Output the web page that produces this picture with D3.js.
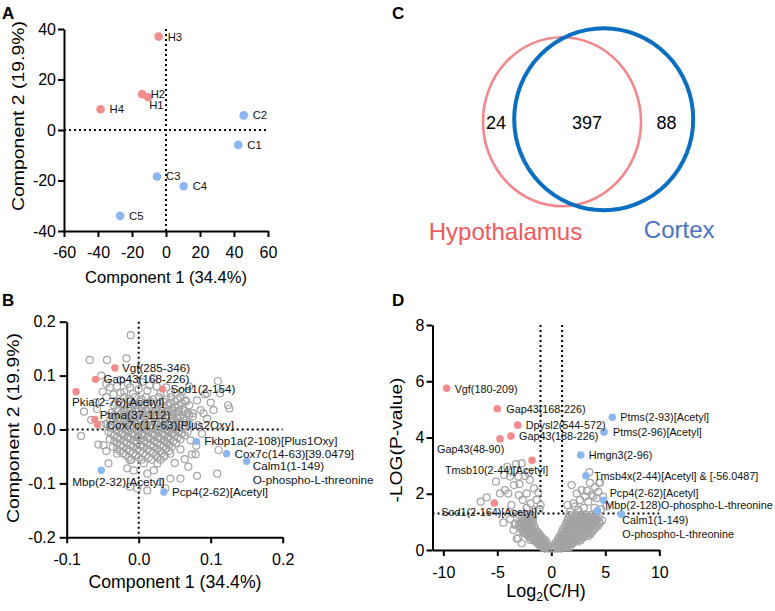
<!DOCTYPE html>
<html>
<head>
<meta charset="utf-8">
<script src="https://cdn.jsdelivr.net/npm/d3@7"></script>
<style>
  body { margin: 0; background: #fff; }
  svg { display: block; font-family: "Liberation Sans", Arial, Helvetica, sans-serif; }
</style>
</head>
<body>
<div id="chart"></div>
<script>
// ---- Panel A: PCA scores ----
const pcaSamples = ['H1', 'H2', 'H3', 'H4', 'C1', 'C2', 'C3', 'C4', 'C5'];
const pcaX = [-10.5, -14, -4.3, -38.5, 42.5, 45.7, -5.3, 10.4, -27];
const pcaY = [13, 14.2, 37, 8.2, -5.9, 5.8, -18.4, -22.3, -34];
const pcaGroup = ['H', 'H', 'H', 'H', 'C', 'C', 'C', 'C', 'C'];
const pcaXTicks = [-60, -40, -20, 0, 20, 40, 60];
const pcaYTicks = [-40, -20, 0, 20, 40];

// ---- Panel B: loadings ----
const loadNames = ['Vgf(285-346)', 'Gap43(168-226)', 'Sod1(2-154)', 'Pkia(2-76)[Acetyl]', 'Ptma(37-112)',
  'Cox7c(17-63)[Plus2Oxy]', 'Fkbp1a(2-108)[Plus1Oxy]', 'Cox7c(14-63)[39.0479]',
  'Calm1(1-149)\nO-phospho-L-threonine', 'Mbp(2-32)[Acetyl]', 'Pcp4(2-62)[Acetyl]'];
const loadX = [-0.033, -0.060, 0.033, -0.087, -0.061, -0.057, 0.080, 0.122, 0.150, -0.052, 0.035];
const loadY = [0.114, 0.093, 0.075, 0.070, 0.0186, 0.009, -0.022, -0.045, -0.059, -0.0755, -0.116];
const loadGroup = ['H', 'H', 'H', 'H', 'H', 'H', 'C', 'C', 'C', 'C', 'C'];
const loadOther = [
  [-0.020,0.060],[-0.005,0.060],[0.010,0.060],[0.028,0.060],[0.045,0.060],[0.058,0.060],
  [-0.028,0.052],[-0.012,0.052],[0.002,0.052],[0.016,0.052],[0.034,0.052],[0.050,0.052],[0.066,0.052],
  [-0.035,0.045],[-0.020,0.045],[-0.004,0.045],[0.008,0.045],[0.022,0.045],[0.040,0.045],[0.055,0.045],[0.070,0.045],
  [-0.030,0.038],[-0.015,0.038],[0.000,0.038],[0.014,0.038],[0.030,0.038],[0.046,0.038],[0.062,0.038],
  [-0.038,0.031],[-0.024,0.031],[-0.008,0.031],[0.006,0.031],[0.020,0.031],[0.036,0.031],[0.052,0.031],[0.068,0.031],
  [-0.032,0.024],[-0.016,0.024],[-0.002,0.024],[0.012,0.024],[0.026,0.024],[0.042,0.024],[0.058,0.024],[0.075,0.024],
  [-0.040,0.017],[-0.026,0.017],[-0.010,0.017],[0.004,0.017],[0.018,0.017],[0.034,0.017],[0.048,0.017],[0.064,0.017],
  [-0.045,0.010],[-0.030,0.010],[-0.016,0.010],[-0.004,0.010],[0.010,0.010],[0.024,0.010],[0.040,0.010],[0.056,0.010],[0.070,0.010],
  [-0.036,0.003],[-0.022,0.003],[-0.008,0.003],[0.006,0.003],[0.020,0.003],[0.032,0.003],[0.046,0.003],[0.060,0.003],
  [-0.042,-0.004],[-0.028,-0.004],[-0.014,-0.004],[0.000,-0.004],[0.014,-0.004],[0.028,-0.004],[0.042,-0.004],[0.055,-0.004],[0.068,-0.004],
  [-0.034,-0.011],[-0.020,-0.011],[-0.006,-0.011],[0.008,-0.011],[0.022,-0.011],[0.036,-0.011],[0.050,-0.011],[0.064,-0.011],
  [-0.040,-0.018],[-0.026,-0.018],[-0.012,-0.018],[0.002,-0.018],[0.016,-0.018],[0.030,-0.018],[0.044,-0.018],[0.058,-0.018],
  [-0.030,-0.025],[-0.016,-0.025],[-0.002,-0.025],[0.012,-0.025],[0.026,-0.025],[0.040,-0.025],[0.052,-0.025],
  [-0.036,-0.032],[-0.022,-0.032],[-0.008,-0.032],[0.006,-0.032],[0.020,-0.032],[0.034,-0.032],[0.046,-0.032],
  [-0.026,-0.040],[-0.012,-0.040],[0.002,-0.040],[0.016,-0.040],[0.030,-0.040],[0.042,-0.040],
  [-0.018,-0.048],[-0.004,-0.048],[0.010,-0.048],[0.024,-0.048],[0.036,-0.048],
  [-0.010,-0.056],[0.004,-0.056],[0.018,-0.056],[0.030,-0.056],
  [-0.012,0.042],[0.004,0.042],[0.018,0.042],[0.034,0.042],[0.050,0.042],
  [-0.020,0.035],[-0.004,0.035],[0.010,0.035],[0.024,0.035],[0.040,0.035],[0.056,0.035],
  [-0.012,0.028],[0.002,0.028],[0.016,0.028],[0.030,0.028],[0.046,0.028],
  [-0.020,0.021],[-0.006,0.021],[0.008,0.021],[0.022,0.021],[0.038,0.021],[0.054,0.021],
  [-0.014,0.014],[0.000,0.014],[0.014,0.014],[0.028,0.014],[0.044,0.014],
  [-0.024,0.007],[-0.010,0.007],[0.002,0.007],[0.016,0.007],[0.030,0.007],[0.050,0.007],
  [-0.016,0.000],[-0.002,0.000],[0.012,0.000],[0.026,0.000],[0.040,0.000],
  [-0.022,-0.007],[-0.008,-0.007],[0.006,-0.007],[0.020,-0.007],[0.034,-0.007],[0.048,-0.007],
  [-0.014,-0.014],[0.000,-0.014],[0.014,-0.014],[0.028,-0.014],[0.042,-0.014],
  [-0.006,-0.021],[0.008,-0.021],[0.022,-0.021],[0.036,-0.021],
  [-0.014,0.056],[0.004,0.056],[0.020,0.056],[0.038,0.056],[0.054,0.056],
  [-0.024,0.049],[-0.008,0.049],[0.010,0.049],[0.026,0.049],[0.044,0.049],[0.060,0.049],
  [-0.028,0.034],[-0.012,0.034],[0.004,0.034],[0.018,0.034],[0.032,0.034],[0.048,0.034],[0.064,0.034],
  [-0.034,0.027],[-0.020,0.027],[-0.006,0.027],[0.010,0.027],[0.024,0.027],[0.038,0.027],[0.054,0.027],[0.070,0.027],
  [-0.030,0.020],[-0.014,0.020],[0.002,0.020],[0.016,0.020],[0.030,0.020],[0.046,0.020],[0.062,0.020],
  [-0.036,0.013],[-0.020,0.013],[-0.006,0.013],[0.008,0.013],[0.022,0.013],[0.036,0.013],[0.052,0.013],[0.066,0.013],
  [-0.040,0.006],[-0.026,0.006],[-0.012,0.006],[0.004,0.006],[0.018,0.006],[0.034,0.006],[0.050,0.006],[0.064,0.006],
  [-0.032,-0.001],[-0.018,-0.001],[-0.004,-0.001],[0.010,-0.001],[0.024,-0.001],[0.038,-0.001],[0.052,-0.001],
  [-0.038,-0.008],[-0.024,-0.008],[-0.010,-0.008],[0.004,-0.008],[0.018,-0.008],[0.032,-0.008],[0.046,-0.008],[0.060,-0.008],
  [-0.030,-0.015],[-0.016,-0.015],[-0.002,-0.015],[0.012,-0.015],[0.026,-0.015],[0.040,-0.015],[0.054,-0.015],
  [-0.034,-0.022],[-0.020,-0.022],[-0.006,-0.022],[0.008,-0.022],[0.022,-0.022],[0.036,-0.022],[0.048,-0.022],
  [-0.026,-0.029],[-0.012,-0.029],[0.002,-0.029],[0.016,-0.029],[0.030,-0.029],[0.042,-0.029],
  [-0.030,-0.036],[-0.016,-0.036],[-0.002,-0.036],[0.012,-0.036],[0.026,-0.036],[0.038,-0.036],
  [-0.022,-0.044],[-0.008,-0.044],[0.006,-0.044],[0.020,-0.044],[0.032,-0.044],
  [-0.014,-0.052],[0.000,-0.052],[0.014,-0.052],[0.026,-0.052],
  [-0.045,0.085],[-0.030,0.080],[-0.015,0.085],[0.000,0.075],[-0.050,0.070],[-0.020,0.070],
  [0.015,0.082],[0.025,0.080],[-0.035,0.065],[-0.008,0.066],
  [-0.011,0.175],[-0.068,0.129],[-0.044,0.129],[-0.017,0.132],[-0.052,0.100],[-0.025,0.092],[-0.040,0.078],
  [-0.012,0.078],[0.005,0.088],[0.020,0.096],[0.012,0.072],[0.038,0.078],[0.060,0.070],[0.110,0.090],
  [0.124,0.045],[0.126,0.039],[0.065,0.054],[0.081,0.054],[0.086,0.036],[0.104,0.036],[0.095,0.020],
  [0.082,0.008],[0.088,-0.008],[0.074,-0.046],[0.079,-0.046],[0.111,-0.038],[0.081,-0.086],[0.012,-0.113],
  [-0.080,-0.012],[-0.056,-0.028],[-0.049,-0.029],[-0.076,0.033],[-0.042,-0.063],[-0.012,-0.057],
  [-0.016,-0.072],[-0.007,-0.076],[0.007,-0.063],[0.012,-0.082],[0.021,-0.076],[0.026,-0.063],
  [0.035,-0.051],[0.044,-0.045],[0.058,-0.037],[0.030,-0.097],[0.044,-0.091],[0.058,-0.091],
  [0.069,-0.069],[0.109,-0.082],[0.037,-0.109],[-0.012,-0.106],[-0.002,-0.109],[-0.060,0.050],
  [-0.066,0.018],[-0.052,0.008],[-0.058,0.038],[-0.030,-0.045],[-0.045,-0.040],[0.070,0.080],
  [0.092,0.065],[0.075,0.030],[0.072,-0.020],[0.080,-0.030],[0.064,-0.055],[0.050,-0.062],
  [-0.025,0.068],[-0.045,0.060],[0.030,0.068],[0.045,0.068],[0.095,0.067],[0.113,0.067],
  [0.090,0.030],[0.100,0.050]
];
const loadXTicks = [-0.1, 0.0, 0.1, 0.2];
const loadYTicks = [-0.2, -0.1, 0.0, 0.1, 0.2];

// ---- Panel C: Venn ----
const vennSets = ['Hypothalamus', 'Cortex'];
const vennCounts = [24, 397, 88]; // only H, shared, only C

// ---- Panel D: volcano ----
const volNames = ['Vgf(180-209)', 'Gap43(168-226)', 'Dpysl2(544-572)', 'Gap43(188-226)', 'Gap43(48-90)',
  'Tmsb10(2-44)[Acetyl]', 'Sod1(2-164)[Acetyl]', 'Ptms(2-93)[Acetyl]', 'Ptms(2-96)[Acetyl]', 'Hmgn3(2-96)',
  'Tmsb4x(2-44)[Acetyl] & [-56.0487]', 'Pcp4(2-62)[Acetyl]', 'Mbp(2-128)O-phospho-L-threonine',
  'Calm1(1-149)\nO-phospho-L-threonine'];
const volX = [-9.69, -5.0, -3.11, -3.73, -4.75, -1.79, -5.28, 5.65, 4.88, 2.72, 3.21, 4.85, 4.26, 6.48];
const volY = [5.75, 5.02, 4.44, 4.05, 3.95, 3.19, 1.67, 4.72, 4.20, 3.38, 2.64, 1.77, 1.40, 1.27];
const volGroup = ['H', 'H', 'H', 'H', 'H', 'H', 'H', 'C', 'C', 'C', 'C', 'C', 'C', 'C'];
const volOther = [
  [-6.54,1.72],[-5.99,1.87],[-5.12,2.43],[-4.75,2.01],[-4.29,2.13],[-3.98,2.01],[-3.46,2.31],[-3.06,2.61],
  [-3.36,2.84],[-3.27,3.05],[-2.75,3.08],[-2.44,2.63],[-1.98,2.49],[-1.60,2.19],[-2.28,2.01],[-1.36,1.78],
  [-1.91,1.66],[-0.99,1.60],[-2.65,1.78],[-1.67,1.42],[-4.07,2.96],[-4.38,2.67],[-3.82,2.61],[-2.95,2.35],
  [-2.10,2.75],[-1.20,2.05],[-3.00,1.95],[-1.10,1.45],[-2.30,1.50],[-3.70,1.60],
  [-4.44,0.97],[-3.52,1.30],[-3.80,1.10],[-3.40,0.90],[-3.50,0.71],[-3.20,0.40],[-2.74,0.24],[-3.06,0.42],
  [-2.28,0.71],[-1.97,0.95],[-1.97,0.36],
  [1.88,2.31],[2.35,2.01],[2.81,2.13],[3.58,2.39],[4.51,2.39],[4.35,2.07],[3.52,2.77],[3.89,1.90],
  [4.81,1.90],[4.44,2.39],[4.05,2.23],[2.04,1.66],[2.66,1.78],[3.12,1.90],[3.74,1.96],[3.43,1.72],
  [4.20,1.84],[1.73,1.36],[2.50,1.42],[3.00,1.50],[1.50,1.60],[4.00,1.50],[4.60,1.45],[5.10,1.55],
  [3.30,2.10],[2.20,1.55],
  [-0.6,0.05],[-0.3,0.05],[0.0,0.05],[0.3,0.05],[0.6,0.05],[0.9,0.05],
  [-1.0,0.15],[-0.7,0.15],[-0.4,0.15],[0.3,0.15],[0.6,0.15],[0.9,0.15],[1.2,0.15],[1.5,0.15],
  [-1.3,0.25],[-1.0,0.25],[-0.7,0.25],[-0.4,0.25],[0.4,0.25],[0.7,0.25],[1.0,0.25],[1.3,0.25],[1.7,0.25],[2.0,0.25],
  [-1.6,0.35],[-1.3,0.35],[-1.0,0.35],[-0.6,0.35],[0.6,0.35],[0.9,0.35],[1.2,0.35],[1.5,0.35],[1.9,0.35],[2.3,0.35],[2.7,0.35],
  [-2.0,0.45],[-1.6,0.45],[-1.3,0.45],[-0.9,0.45],[0.7,0.45],[1.0,0.45],[1.4,0.45],[1.8,0.45],[2.2,0.45],[2.6,0.45],[3.0,0.45],
  [-2.3,0.55],[-1.9,0.55],[-1.5,0.55],[-1.1,0.55],[0.9,0.55],[1.2,0.55],[1.6,0.55],[2.0,0.55],[2.4,0.55],[2.8,0.55],[3.2,0.55],[3.6,0.55],
  [-2.6,0.65],[-2.2,0.65],[-1.8,0.65],[-1.3,0.65],[1.0,0.65],[1.4,0.65],[1.8,0.65],[2.2,0.65],[2.6,0.65],[3.0,0.65],[3.4,0.65],[3.8,0.65],
  [-2.8,0.75],[-2.4,0.75],[-2.0,0.75],[-1.5,0.75],[1.1,0.75],[1.5,0.75],[1.9,0.75],[2.3,0.75],[2.8,0.75],[3.2,0.75],[3.6,0.75],[4.0,0.75],
  [-3.0,0.85],[-2.6,0.85],[-2.1,0.85],[-1.6,0.85],[1.3,0.85],[1.7,0.85],[2.1,0.85],[2.5,0.85],[2.9,0.85],[3.4,0.85],[3.8,0.85],[4.3,0.85],
  [-3.3,0.95],[-2.8,0.95],[-2.3,0.95],[-1.8,0.95],[1.4,0.95],[1.8,0.95],[2.2,0.95],[2.7,0.95],[3.1,0.95],[3.6,0.95],[4.0,0.95],[4.5,0.95],
  [-2.5,1.05],[-2.0,1.05],[1.5,1.05],[2.0,1.05],[2.4,1.05],[2.9,1.05],[3.3,1.05],[3.8,1.05],[4.2,1.05],[4.7,1.05],
  [-2.7,1.15],[-2.2,1.15],[-1.7,1.15],[1.6,1.15],[2.1,1.15],[2.6,1.15],[3.0,1.15],[3.5,1.15],[4.0,1.15],[4.4,1.15],
  [-3.0,1.25],[-2.3,1.25],[-1.8,1.25],[1.7,1.25],[2.3,1.25],[2.8,1.25],[3.2,1.25],[3.7,1.25],[4.1,1.25],
  [-0.8,0.10],[-0.5,0.10],[0.45,0.10],[0.75,0.10],[1.05,0.10],[1.35,0.10],[1.7,0.10],
  [-1.15,0.20],[-0.85,0.20],[-0.55,0.20],[0.55,0.20],[0.85,0.20],[1.15,0.20],[1.5,0.20],[1.85,0.20],
  [-1.45,0.30],[-1.15,0.30],[-0.8,0.30],[0.75,0.30],[1.05,0.30],[1.35,0.30],[1.7,0.30],[2.1,0.30],[2.5,0.30],
  [-1.8,0.40],[-1.45,0.40],[-1.1,0.40],[-0.75,0.40],[0.85,0.40],[1.2,0.40],[1.6,0.40],[2.0,0.40],[2.4,0.40],[2.8,0.40],
  [-2.1,0.50],[-1.7,0.50],[-1.3,0.50],[-1.0,0.50],[1.0,0.50],[1.4,0.50],[1.8,0.50],[2.2,0.50],[2.6,0.50],[3.0,0.50],[3.4,0.50],
  [-2.4,0.60],[-2.0,0.60],[-1.6,0.60],[-1.2,0.60],[1.2,0.60],[1.6,0.60],[2.0,0.60],[2.4,0.60],[2.8,0.60],[3.2,0.60],[3.6,0.60],
  [-2.6,0.70],[-2.2,0.70],[-1.7,0.70],[1.3,0.70],[1.7,0.70],[2.1,0.70],[2.5,0.70],[3.0,0.70],[3.4,0.70],[3.8,0.70],
  [-2.9,0.80],[-2.3,0.80],[-1.8,0.80],[1.5,0.80],[1.9,0.80],[2.3,0.80],[2.7,0.80],[3.1,0.80],[3.6,0.80],[4.1,0.80],
  [-3.0,0.90],[-2.5,0.90],[-2.0,0.90],[1.6,0.90],[2.0,0.90],[2.4,0.90],[2.9,0.90],[3.3,0.90],[3.8,0.90],[4.2,0.90],
  [-2.7,1.00],[-2.2,1.00],[-1.7,1.00],[1.7,1.00],[2.2,1.00],[2.6,1.00],[3.1,1.00],[3.5,1.00],[4.0,1.00],[4.4,1.00],
  [-2.4,1.10],[-1.9,1.10],[1.8,1.10],[2.3,1.10],[2.8,1.10],[3.2,1.10],[3.7,1.10],[4.2,1.10],
  [-2.5,1.20],[-2.0,1.20],[1.9,1.20],[2.5,1.20],[3.0,1.20],[3.4,1.20],[3.9,1.20]
];
const volXTicks = [-10, -5, 0, 5, 10];
const volYTicks = [0, 2, 4, 6, 8];

// ---- styling ----
const PINK = '#f48b8c';
const BLUE = '#8bb6f0';
const GREY = '#a3a3a3';
const groupColor = g => (g === 'H' ? PINK : BLUE);

const svg = d3.select('#chart').append('svg')
  .attr('width', 775)
  .attr('height', 611);

svg.append('rect').attr('width', 775).attr('height', 611).attr('fill', '#fff');

function dottedLine(g, x1, y1, x2, y2) {
  g.append('line')
    .attr('x1', x1).attr('y1', y1).attr('x2', x2).attr('y2', y2)
    .attr('stroke', '#000')
    .attr('stroke-width', 2)
    .attr('stroke-dasharray', '2 3');
}

function drawAxes(g, x, y, o) {
  const xa = g.append('g')
    .attr('transform', `translate(0,${y.range()[0]})`)
    .call(d3.axisBottom(x).tickValues(o.xTicks).tickFormat(o.fmt).tickSize(6).tickSizeOuter(0).tickPadding(o.xPad));
  const ya = g.append('g')
    .attr('transform', `translate(${x.range()[0]},0)`)
    .call(d3.axisLeft(y).tickValues(o.yTicks).tickFormat(o.fmt).tickSize(o.yTick).tickSizeOuter(0).tickPadding(o.yPad));
  [xa, ya].forEach(a => {
    a.select('.domain').attr('stroke', '#000').attr('stroke-width', 2);
    a.selectAll('.tick line').attr('stroke', '#000').attr('stroke-width', 2);
    a.selectAll('.tick text').attr('fill', '#000').style('font-size', '16px')
      .style('font-family', '"Liberation Sans", Arial, sans-serif');
  });
}

function panelLetter(t, x, y) {
  svg.append('text').attr('x', x).attr('y', y).text(t)
    .attr('font-size', 17).attr('font-weight', 'bold').attr('fill', '#000');
}

function pointLabels(g, xs, ys, names, x, y, offs, size, lineH) {
  names.forEach((n, i) => {
    const t = g.append('text')
      .attr('x', x(xs[i]) + offs[i][0])
      .attr('y', y(ys[i]) + offs[i][1])
      .attr('font-size', size)
      .attr('fill', '#111');
    n.split('\n').forEach((line, k) => {
      t.append('tspan')
        .attr('x', x(xs[i]) + offs[i][0])
        .attr('dy', k === 0 ? '0.35em' : lineH)
        .text(line);
    });
  });
}

// ================= A =================
{
  const x = d3.scaleLinear().domain([-60, 60]).range([64, 268]);
  const y = d3.scaleLinear().domain([-40, 40]).range([231, 29]);
  const g = svg.append('g');
  dottedLine(g, x(0), y(40), x(0), y(-40));
  dottedLine(g, x(-60), y(0), x(60), y(0));
  drawAxes(g, x, y, { xTicks: pcaXTicks, yTicks: pcaYTicks, fmt: d => String(d), xPad: 10, yTick: 6, yPad: 2 });

  g.selectAll('circle.pca').data(pcaSamples).join('circle')
    .attr('class', 'pca')
    .attr('cx', (d, i) => x(pcaX[i]))
    .attr('cy', (d, i) => y(pcaY[i]))
    .attr('r', 4.3)
    .attr('fill', (d, i) => groupColor(pcaGroup[i]));

  const offs = { H1: [1, 8], H2: [8.5, 0] };
  g.selectAll('text.pca').data(pcaSamples).join('text')
    .attr('class', 'pca')
    .attr('x', (d, i) => x(pcaX[i]) + (offs[d] ? offs[d][0] : 9))
    .attr('y', (d, i) => y(pcaY[i]) + (offs[d] ? offs[d][1] : 0))
    .attr('dy', '0.35em')
    .attr('font-size', 11.3)
    .attr('fill', '#111')
    .text(d => d);

  g.append('text').attr('x', 166).attr('y', 283).attr('text-anchor', 'middle')
    .attr('font-size', 16.5).attr('textLength', 162).attr('lengthAdjust', 'spacingAndGlyphs')
    .text('Component 1 (34.4%)');
  g.append('text').attr('transform', 'translate(24,116) rotate(-90)').attr('text-anchor', 'middle')
    .attr('font-size', 16.5).attr('textLength', 190).attr('lengthAdjust', 'spacingAndGlyphs')
    .text('Component 2 (19.9%)');
  panelLetter('A', 2, 19);
}

// ================= B =================
{
  const x = d3.scaleLinear().domain([-0.1, 0.2]).range([66.7, 282.7]);
  const y = d3.scaleLinear().domain([-0.2, 0.2]).range([537.3, 321.7]);
  const g = svg.append('g');
  dottedLine(g, x(0), y(0.2), x(0), y(-0.2));
  dottedLine(g, x(-0.1), y(0), x(0.2), y(0));
  drawAxes(g, x, y, { xTicks: loadXTicks, yTicks: loadYTicks, fmt: d => d.toFixed(1), xPad: 10, yTick: 7, yPad: 4 });

  g.selectAll('circle.other').data(loadOther).join('circle')
    .attr('class', 'other')
    .attr('cx', d => x(d[0]))
    .attr('cy', d => y(d[1]))
    .attr('r', 3.5)
    .attr('fill', 'none')
    .attr('stroke', GREY)
    .attr('stroke-width', 1.2);

  g.selectAll('circle.hit').data(loadNames).join('circle')
    .attr('class', 'hit')
    .attr('cx', (d, i) => x(loadX[i]))
    .attr('cy', (d, i) => y(loadY[i]))
    .attr('r', 3.7)
    .attr('fill', (d, i) => groupColor(loadGroup[i]));

  const offs = [[7, 0], [8, 0], [8, 0], [-4, 10], [5, -5], [9, 0], [8, 0], [8, 0], [6, 5], [-29, 12], [8, 0]];
  pointLabels(g, loadX, loadY, loadNames, x, y, offs, 11.7, 13.5);

  g.append('text').attr('x', 175).attr('y', 588).attr('text-anchor', 'middle')
    .attr('font-size', 17.5).attr('textLength', 173).attr('lengthAdjust', 'spacingAndGlyphs')
    .text('Component 1 (34.4%)');
  g.append('text').attr('transform', 'translate(19,428) rotate(-90)').attr('text-anchor', 'middle')
    .attr('font-size', 16.5).attr('textLength', 190).attr('lengthAdjust', 'spacingAndGlyphs')
    .text('Component 2 (19.9%)');
  panelLetter('B', 2, 306);
}

// ================= C =================
{
  const g = svg.append('g');
  const circles = [
    { cx: 562, cy: 121.7, rx: 79, ry: 84.5, stroke: '#f4878b', w: 2.6 },
    { cx: 603.7, cy: 119.3, rx: 89.5, ry: 91, stroke: '#0a6fc1', w: 4 }
  ];
  g.selectAll('ellipse').data(circles).join('ellipse')
    .attr('cx', d => d.cx).attr('cy', d => d.cy)
    .attr('rx', d => d.rx).attr('ry', d => d.ry)
    .attr('fill', 'none')
    .attr('stroke', d => d.stroke)
    .attr('stroke-width', d => d.w);

  const countX = [496, 587, 666.5];
  g.selectAll('text.count').data(vennCounts).join('text')
    .attr('class', 'count')
    .attr('x', (d, i) => countX[i])
    .attr('y', 128.5)
    .attr('text-anchor', 'middle')
    .attr('font-size', 18)
    .attr('fill', '#000')
    .text(d => d);

  const setX = [505.5, 679.2];
  const setColor = ['#f2585d', '#4a72c6'];
  g.selectAll('text.set').data(vennSets).join('text')
    .attr('class', 'set')
    .attr('x', (d, i) => setX[i])
    .attr('y', (d, i) => (i === 0 ? 240 : 238))
    .attr('text-anchor', 'middle')
    .attr('font-size', 24)
    .attr('fill', (d, i) => setColor[i])
    .text(d => d);
  panelLetter('C', 392, 19);
}

// ================= D =================
{
  const x = d3.scaleLinear().domain([-11, 10]).range([432.5, 659.3]);
  const y = d3.scaleLinear().domain([0, 8]).range([550, 325]);
  const g = svg.append('g');
  const thr = 1.301;
  dottedLine(g, x(-1), y(8), x(-1), y(thr));
  dottedLine(g, x(1), y(8), x(1), y(thr));
  dottedLine(g, x(-11), y(thr), x(10), y(thr));
  drawAxes(g, x, y, { xTicks: volXTicks, yTicks: volYTicks, fmt: d => String(d), xPad: 11, yTick: 6, yPad: 2 });

  g.selectAll('circle.other').data(volOther).join('circle')
    .attr('class', 'other')
    .attr('cx', d => x(d[0]))
    .attr('cy', d => y(d[1]))
    .attr('r', 3.5)
    .attr('fill', 'none')
    .attr('stroke', GREY)
    .attr('stroke-width', 1.2);

  g.selectAll('circle.hit').data(volNames).join('circle')
    .attr('class', 'hit')
    .attr('cx', (d, i) => x(volX[i]))
    .attr('cy', (d, i) => y(volY[i]))
    .attr('r', 3.8)
    .attr('fill', (d, i) => groupColor(volGroup[i]));

  const offs = [[8, 1], [9, 0], [8, 0], [8, 0], [-63, 10], [-87, 10], [-53, 9], [8, 0], [9, 0], [8, 0], [8, 0], [6, -7], [8, -5], [1, 6]];
  pointLabels(g, volX, volY, volNames, x, y, offs, 10.8, 13.6);

  const xt = g.append('text').attr('x', 546).attr('y', 597).attr('text-anchor', 'middle')
    .attr('font-size', 18);
  xt.append('tspan').text('Log');
  xt.append('tspan').attr('font-size', 12).attr('dy', 4).text('2');
  xt.append('tspan').attr('dy', -4).text('(C/H)');
  g.append('text').attr('transform', 'translate(402,440) rotate(-90)').attr('text-anchor', 'middle')
    .attr('font-size', 16.5).attr('textLength', 125).attr('lengthAdjust', 'spacingAndGlyphs')
    .text('-LOG(P-value)');
  panelLetter('D', 392, 306);
}
</script>
</body>
</html>
